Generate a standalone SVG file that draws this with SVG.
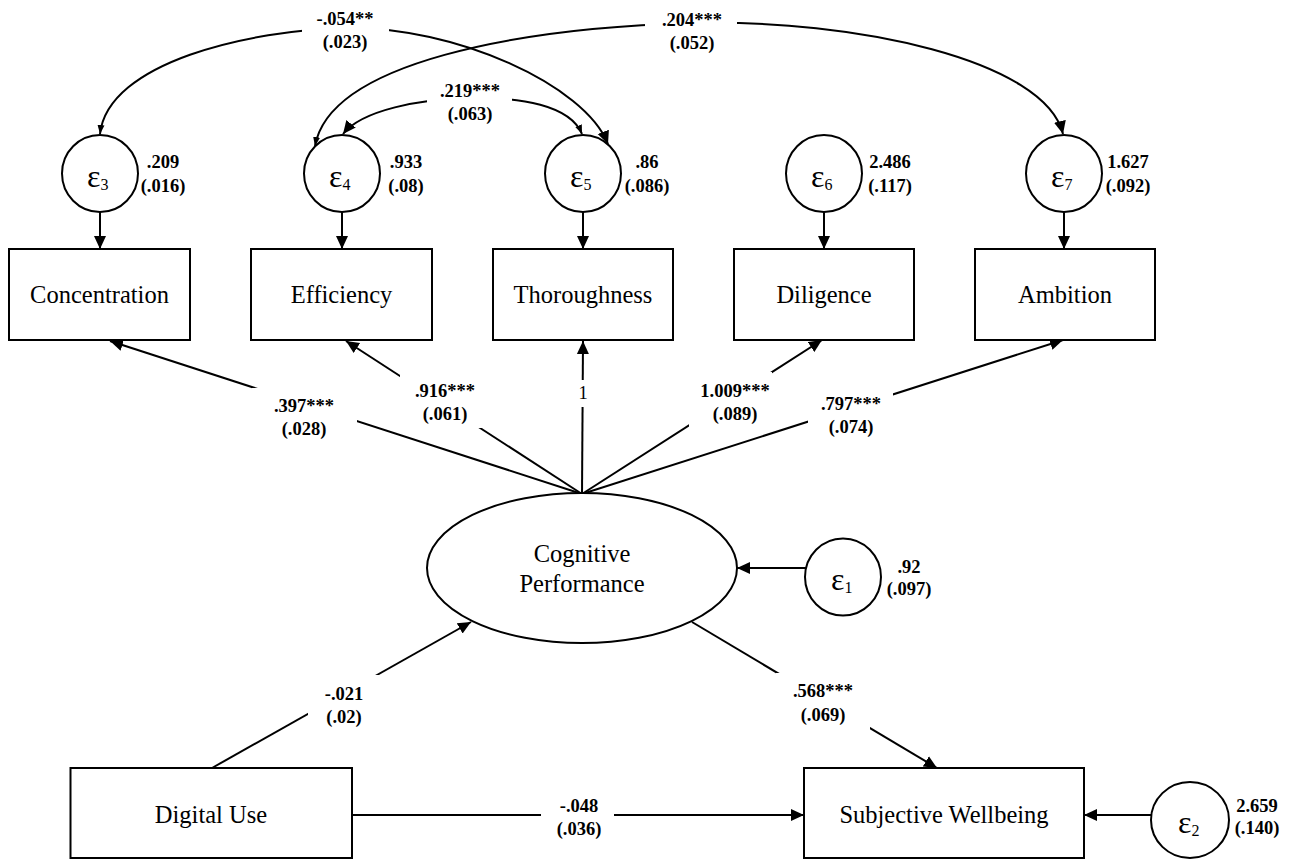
<svg xmlns="http://www.w3.org/2000/svg" width="1292" height="860" viewBox="0 0 1292 860">
<style>
.box{fill:#fff;stroke:#000;stroke-width:2}
.ell{fill:#fff;stroke:#000;stroke-width:2}
.ln{fill:none;stroke:#000;stroke-width:2}
.lbl{font-family:"Liberation Serif","Times New Roman",serif;font-size:24.5px;fill:#000;text-anchor:middle}
.num{font-family:"Liberation Serif","Times New Roman",serif;font-size:18.5px;font-weight:bold;fill:#000;text-anchor:middle}
.one{font-family:"Liberation Serif","Times New Roman",serif;font-size:18.5px;fill:#000;text-anchor:middle}
.eps{font-family:"Liberation Serif","Times New Roman",serif;font-size:32px;fill:#000}
.sub{font-size:16px}
.bg{fill:#fff}
</style>
<defs>
<marker id="ab" markerUnits="userSpaceOnUse" markerWidth="14" markerHeight="14" viewBox="0 0 14 14" refX="13" refY="7" orient="auto-start-reverse"><path d="M0,1 L13,7 L0,13 z" fill="#000"/></marker>
<marker id="as" markerUnits="userSpaceOnUse" markerWidth="10" markerHeight="10" viewBox="0 0 10 10" refX="9" refY="5" orient="auto-start-reverse"><path d="M0,1.5 L9,5 L0,8.5 z" fill="#000"/></marker>
</defs>

<g id="connectors">
  <!-- covariances -->
  <path class="ln" d="M100,134 C108,62 250,30 346,28 C455,26 585,85 608,144" marker-start="url(#as)" marker-end="url(#ab)"/>
  <path class="ln" d="M315,146 C330,62 520,28 692,23 C855,19 1045,60 1063,134" marker-start="url(#as)" marker-end="url(#ab)"/>
  <path class="ln" d="M343,134 C362,110 420,99 470,98 C520,97 570,105 582,134" marker-start="url(#ab)" marker-end="url(#as)"/>
  <!-- error to indicator -->
  <line class="ln" x1="100" y1="212" x2="100" y2="249" marker-end="url(#ab)"/>
  <line class="ln" x1="342" y1="212" x2="342" y2="249" marker-end="url(#ab)"/>
  <line class="ln" x1="583" y1="212" x2="583" y2="249" marker-end="url(#ab)"/>
  <line class="ln" x1="824" y1="212" x2="824" y2="249" marker-end="url(#ab)"/>
  <line class="ln" x1="1064" y1="212" x2="1064" y2="249" marker-end="url(#ab)"/>
  <!-- loadings -->
  <line class="ln" x1="582" y1="494" x2="110" y2="341" marker-end="url(#ab)"/>
  <line class="ln" x1="582" y1="494" x2="346" y2="341" marker-end="url(#ab)"/>
  <line class="ln" x1="582" y1="494" x2="583" y2="341" marker-end="url(#ab)"/>
  <line class="ln" x1="582" y1="494" x2="822" y2="340" marker-end="url(#ab)"/>
  <line class="ln" x1="582" y1="494" x2="1063" y2="340" marker-end="url(#ab)"/>
  <!-- structural -->
  <line class="ln" x1="212" y1="768" x2="471" y2="622" marker-end="url(#ab)"/>
  <line class="ln" x1="692" y1="622" x2="937" y2="768" marker-end="url(#ab)"/>
  <line class="ln" x1="352" y1="815" x2="804" y2="815" marker-end="url(#ab)"/>
  <line class="ln" x1="806" y1="568" x2="737" y2="568" marker-end="url(#ab)"/>
  <line class="ln" x1="1151" y1="815" x2="1084" y2="815" marker-end="url(#ab)"/>

  <!-- labels -->
  <rect class="bg" x="302" y="3" width="87" height="54"/>
  <text class="num" x="345" y="25">-.054**</text>
  <text class="num" x="345" y="48">(.023)</text>
  <rect class="bg" x="645" y="3" width="92" height="54"/>
  <text class="num" x="692" y="26">.204***</text>
  <text class="num" x="692" y="49">(.052)</text>
  <rect class="bg" x="427" y="73" width="85" height="56"/>
  <text class="num" x="470" y="97">.219***</text>
  <text class="num" x="470" y="120">(.063)</text>

  <rect class="bg" x="252" y="388" width="105" height="55"/>
  <text class="num" x="304" y="412">.397***</text>
  <text class="num" x="304" y="435">(.028)</text>
  <rect class="bg" x="400" y="375" width="92" height="53"/>
  <text class="num" x="445" y="397">.916***</text>
  <text class="num" x="445" y="420">(.061)</text>
  <rect class="bg" x="547" y="380" width="73" height="27"/>
  <text class="one" x="583" y="399">1</text>
  <rect class="bg" x="689" y="372" width="83" height="56"/>
  <text class="num" x="735" y="397">1.009***</text>
  <text class="num" x="735" y="420">(.089)</text>
  <rect class="bg" x="808" y="388" width="85" height="55"/>
  <text class="num" x="851" y="410">.797***</text>
  <text class="num" x="851" y="433">(.074)</text>

  <rect class="bg" x="308" y="675" width="72" height="55"/>
  <text class="num" x="344" y="700">-.021</text>
  <text class="num" x="344" y="723">(.02)</text>
  <rect class="bg" x="776" y="673" width="94" height="59"/>
  <text class="num" x="823" y="697">.568***</text>
  <text class="num" x="823" y="721">(.069)</text>
  <rect class="bg" x="541" y="790" width="73" height="58"/>
  <text class="num" x="579" y="812">-.048</text>
  <text class="num" x="579" y="835">(.036)</text>
</g>

<g id="e3"><ellipse class="ell" cx="100" cy="173.5" rx="38" ry="38.5"/><text class="eps" x="87" y="187">ε<tspan class="sub" dy="3">3</tspan></text><text class="num" x="163" y="168">.209</text><text class="num" x="163" y="192">(.016)</text></g>
<g id="e4"><ellipse class="ell" cx="342" cy="173.5" rx="38" ry="38.5"/><text class="eps" x="329" y="187">ε<tspan class="sub" dy="3">4</tspan></text><text class="num" x="406" y="168">.933</text><text class="num" x="406" y="192">(.08)</text></g>
<g id="e5"><ellipse class="ell" cx="583" cy="173.5" rx="38" ry="38.5"/><text class="eps" x="570" y="187">ε<tspan class="sub" dy="3">5</tspan></text><text class="num" x="647" y="168">.86</text><text class="num" x="647" y="192">(.086)</text></g>
<g id="e6"><ellipse class="ell" cx="824" cy="173.5" rx="38" ry="38.5"/><text class="eps" x="811" y="187">ε<tspan class="sub" dy="3">6</tspan></text><text class="num" x="890" y="168">2.486</text><text class="num" x="890" y="192">(.117)</text></g>
<g id="e7"><ellipse class="ell" cx="1064" cy="173.5" rx="38" ry="38.5"/><text class="eps" x="1051" y="187">ε<tspan class="sub" dy="3">7</tspan></text><text class="num" x="1128" y="168">1.627</text><text class="num" x="1128" y="192">(.092)</text></g>

<g id="concentration"><rect class="box" x="9" y="249" width="181" height="91"/><text class="lbl" x="99.5" y="303">Concentration</text></g>
<g id="efficiency"><rect class="box" x="251" y="249" width="181" height="91"/><text class="lbl" x="341.5" y="303">Efficiency</text></g>
<g id="thoroughness"><rect class="box" x="493" y="249" width="180" height="91"/><text class="lbl" x="583" y="303">Thoroughness</text></g>
<g id="diligence"><rect class="box" x="734" y="249" width="180" height="91"/><text class="lbl" x="824" y="303">Diligence</text></g>
<g id="ambition"><rect class="box" x="975" y="249" width="180" height="91"/><text class="lbl" x="1065" y="303">Ambition</text></g>

<g id="cognitive"><ellipse class="ell" cx="582" cy="568" rx="155" ry="75"/><text class="lbl" x="582" y="562">Cognitive</text><text class="lbl" x="582" y="592">Performance</text></g>
<g id="e1"><ellipse class="ell" cx="843" cy="577" rx="38" ry="38.5"/><text class="eps" x="831" y="590">ε<tspan class="sub" dy="3">1</tspan></text><text class="num" x="909" y="573">.92</text><text class="num" x="909" y="595">(.097)</text></g>

<g id="digital"><rect class="box" x="70.5" y="768" width="281.5" height="90"/><text class="lbl" x="211" y="823">Digital Use</text></g>
<g id="wellbeing"><rect class="box" x="804" y="768" width="280" height="90"/><text class="lbl" x="944" y="823">Subjective Wellbeing</text></g>
<g id="e2"><ellipse class="ell" cx="1190" cy="820" rx="39" ry="38"/><text class="eps" x="1178" y="833">ε<tspan class="sub" dy="3">2</tspan></text><text class="num" x="1257" y="812">2.659</text><text class="num" x="1257" y="834">(.140)</text></g>
</svg>
